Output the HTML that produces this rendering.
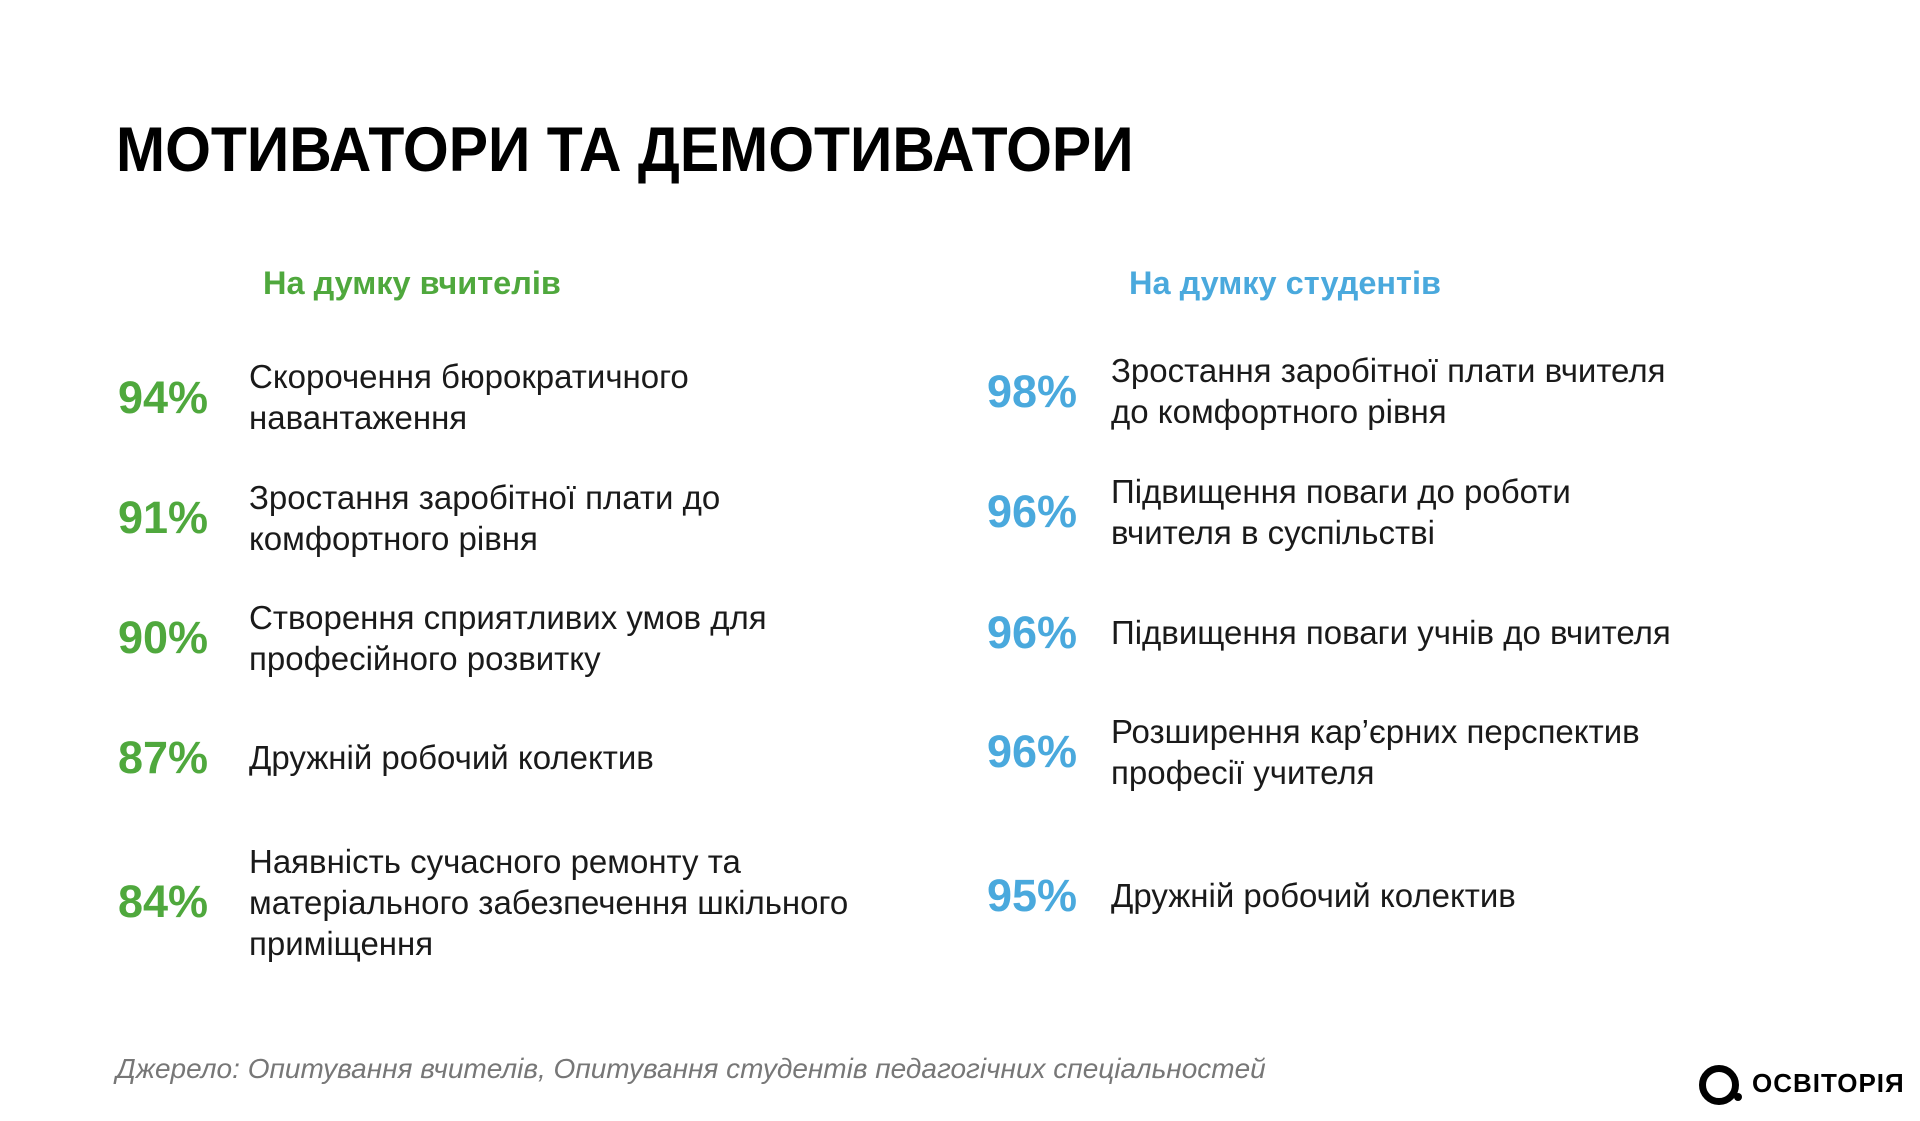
<!DOCTYPE html>
<html><head><meta charset="utf-8"><style>
body{margin:0;width:1920px;height:1121px;background:#fff;position:relative;overflow:hidden;font-family:"Liberation Sans","DejaVu Sans",sans-serif;color:#1a1a1a}
.a{position:absolute;white-space:nowrap}
.t{font-size:63px;font-weight:bold;color:#000;left:116px;top:110px;line-height:80px;transform:scaleX(0.935);transform-origin:0 0}
.h{font-size:32.5px;font-weight:bold;line-height:40px}
.p{font-size:45px;font-weight:bold;line-height:56px}
.g{color:#4fa83d}.b{color:#4aa9dd}
.x{font-size:33px;line-height:41px}
.f{font-size:28px;font-style:italic;color:#777;left:116px;top:1053px}
</style></head><body>
<div class="a t">МОТИВАТОРИ ТА ДЕМОТИВАТОРИ</div>
<div class="a h g" style="left:263px;top:263px">На думку вчителів</div>
<div class="a h b" style="left:1129px;top:263px">На думку студентів</div>

<div class="a p g" style="left:118px;top:370px">94%</div>
<div class="a x" style="left:249px;top:356px">Скорочення бюрократичного<br>навантаження</div>
<div class="a p g" style="left:118px;top:490px">91%</div>
<div class="a x" style="left:249px;top:477px">Зростання заробітної плати до<br>комфортного рівня</div>
<div class="a p g" style="left:118px;top:610px">90%</div>
<div class="a x" style="left:249px;top:597px">Створення сприятливих умов для<br>професійного розвитку</div>
<div class="a p g" style="left:118px;top:730px">87%</div>
<div class="a x" style="left:249px;top:737px">Дружній робочий колектив</div>
<div class="a p g" style="left:118px;top:874px">84%</div>
<div class="a x" style="left:249px;top:841px">Наявність сучасного ремонту та<br>матеріального забезпечення шкільного<br>приміщення</div>

<div class="a p b" style="left:987px;top:364px">98%</div>
<div class="a x" style="left:1111px;top:350px">Зростання заробітної плати вчителя<br>до комфортного рівня</div>
<div class="a p b" style="left:987px;top:484px">96%</div>
<div class="a x" style="left:1111px;top:471px">Підвищення поваги до роботи<br>вчителя в суспільстві</div>
<div class="a p b" style="left:987px;top:605px">96%</div>
<div class="a x" style="left:1111px;top:612px">Підвищення поваги учнів до вчителя</div>
<div class="a p b" style="left:987px;top:724px">96%</div>
<div class="a x" style="left:1111px;top:711px">Розширення кар’єрних перспектив<br>професії учителя</div>
<div class="a p b" style="left:987px;top:868px">95%</div>
<div class="a x" style="left:1111px;top:875px">Дружній робочий колектив</div>

<div class="a f">Джерело: Опитування вчителів, Опитування студентів педагогічних спеціальностей</div>
<div class="a" style="left:1699px;top:1065px;width:26px;height:26px;border:7px solid #000;border-radius:50%"></div>
<div class="a" style="left:1734px;top:1093px;width:8px;height:8px;background:#000;border-radius:50%"></div>
<div class="a" style="left:1752px;top:1067px;font-size:26px;font-weight:bold;color:#000;letter-spacing:1px;line-height:32px">ОСВІТОРІЯ</div>
</body></html>
